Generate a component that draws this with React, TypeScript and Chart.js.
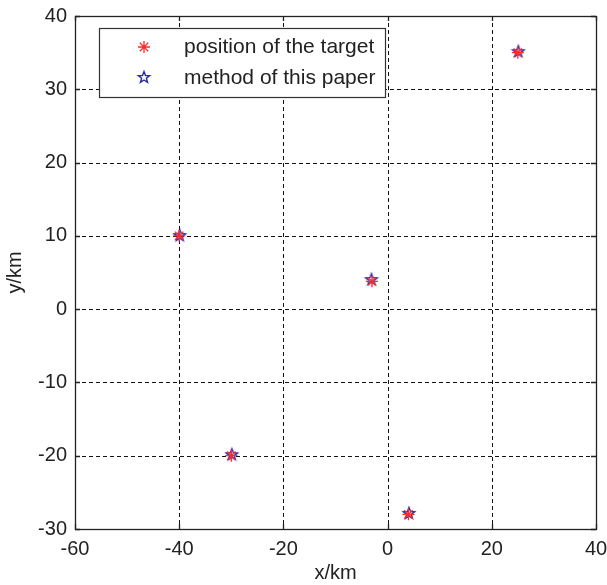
import React, { useEffect, useRef } from "react";
import { Chart, registerables } from "chart.js";
Chart.register(...registerables);

const xTicks = [-60, -40, -20, 0, 20, 40];
const yTicks = [-30, -20, -10, 0, 10, 20, 30, 40];
const targetX = [25, -40, -3, -30, 4];
const targetY = [35, 10, 3.8, -20, -28];
const methodX = [25.1, -39.9, -3.1, -29.9, 4.1];
const methodY = [35.2, 10.1, 4.1, -19.8, -27.8];
const legendLabels = ["position of the target", "method of this paper"];

const RED = "#ff2a2a";
const BLUE = "#2a2aa8";
const TEXT = "#222";
const FONT = "Liberation Sans, Arial, sans-serif";
const FS = 20;

function starPath(ctx: CanvasRenderingContext2D, cx: number, cy: number, R: number) {
  const r = R * 0.42;
  ctx.beginPath();
  for (let i = 0; i < 10; i++) {
    const a = -Math.PI / 2 + (i * Math.PI) / 5;
    const rad = i % 2 === 0 ? R : r;
    const x = cx + rad * Math.cos(a);
    const y = cy + rad * Math.sin(a);
    if (i === 0) ctx.moveTo(x, y);
    else ctx.lineTo(x, y);
  }
  ctx.closePath();
}

function makeStar(): HTMLCanvasElement {
  const c = document.createElement("canvas");
  c.width = 16;
  c.height = 16;
  const ctx = c.getContext("2d")!;
  ctx.strokeStyle = BLUE;
  ctx.lineWidth = 1.4;
  starPath(ctx, 8, 8.6, 6);
  ctx.stroke();
  return c;
}

function drawAsterisk(ctx: CanvasRenderingContext2D, x: number, y: number, r: number) {
  ctx.save();
  ctx.strokeStyle = RED;
  ctx.lineWidth = 1.3;
  ctx.setLineDash([]);
  ctx.beginPath();
  ctx.moveTo(x - r, y);
  ctx.lineTo(x + r, y);
  ctx.moveTo(x, y - r);
  ctx.lineTo(x, y + r);
  const d = r * 0.7;
  ctx.moveTo(x - d, y - d);
  ctx.lineTo(x + d, y + d);
  ctx.moveTo(x - d, y + d);
  ctx.lineTo(x + d, y - d);
  ctx.stroke();
  ctx.restore();
}

function bounds(chart: any) {
  const { x, y } = chart.scales;
  return {
    L: Math.round(x.getPixelForValue(xTicks[0])),
    R: Math.round(x.getPixelForValue(xTicks[xTicks.length - 1])),
    T: Math.round(y.getPixelForValue(yTicks[yTicks.length - 1])),
    B: Math.round(y.getPixelForValue(yTicks[0])),
  };
}

const gridPlugin = {
  id: "dashGrid",
  beforeDatasetsDraw(chart: any) {
    const { ctx, scales } = chart;
    const { L, R, T, B } = bounds(chart);
    ctx.save();
    ctx.strokeStyle = "#111";
    ctx.lineWidth = 1;
    ctx.setLineDash([4, 3]);
    ctx.beginPath();
    for (const v of xTicks.slice(1, -1)) {
      const px = Math.round(scales.x.getPixelForValue(v)) + 0.5;
      ctx.moveTo(px, T);
      ctx.lineTo(px, B);
    }
    for (const v of yTicks.slice(1, -1)) {
      const py = Math.round(scales.y.getPixelForValue(v)) + 0.5;
      ctx.moveTo(L, py);
      ctx.lineTo(R, py);
    }
    ctx.stroke();
    ctx.restore();
  },
};

const framePlugin = {
  id: "frameLegend",
  afterDraw(chart: any) {
    const { ctx, scales } = chart;
    const { L, R, T, B } = bounds(chart);
    ctx.save();
    ctx.strokeStyle = "#222";
    ctx.lineWidth = 1.3;
    ctx.setLineDash([]);
    ctx.strokeRect(L + 0.5, T + 0.5, R - L, B - T);
    const tl = 5;
    ctx.beginPath();
    for (const v of xTicks) {
      const px = Math.round(scales.x.getPixelForValue(v)) + 0.5;
      ctx.moveTo(px, B);
      ctx.lineTo(px, B - tl);
      ctx.moveTo(px, T);
      ctx.lineTo(px, T + tl);
    }
    for (const v of yTicks) {
      const py = Math.round(scales.y.getPixelForValue(v)) + 0.5;
      ctx.moveTo(L, py);
      ctx.lineTo(L + tl, py);
      ctx.moveTo(R, py);
      ctx.lineTo(R - tl, py);
    }
    ctx.stroke();

    // legend
    const lx = 99, ly = 28, lw = 286, lh = 69;
    ctx.fillStyle = "#fff";
    ctx.fillRect(lx, ly, lw, lh);
    ctx.strokeStyle = "#333";
    ctx.lineWidth = 1.2;
    ctx.strokeRect(lx + 0.5, ly + 0.5, lw, lh);
    drawAsterisk(ctx, 144, 47, 6);
    ctx.strokeStyle = BLUE;
    ctx.lineWidth = 1.4;
    starPath(ctx, 144, 77.5, 6);
    ctx.stroke();
    ctx.fillStyle = TEXT;
    ctx.font = `21px ${FONT}`;
    ctx.textBaseline = "middle";
    ctx.textAlign = "left";
    ctx.fillText(legendLabels[0], 184, 47);
    ctx.fillText(legendLabels[1], 184, 78);
    ctx.restore();
  },
};

const asteriskPlugin = {
  id: "asterisks",
  afterDatasetsDraw(chart: any) {
    const meta = chart.getDatasetMeta(0);
    const ctx = chart.ctx;
    meta.data.forEach((pt: any) => drawAsterisk(ctx, pt.x, pt.y, 6));
  },
};

export default function App() {
  const ref = useRef<HTMLCanvasElement>(null);
  useEffect(() => {
    document.body.style.margin = "0";
    const star = makeStar();
    const chart = new Chart(ref.current!, {
      type: "scatter",
      data: {
        datasets: [
          {
            label: legendLabels[0],
            data: targetX.map((x, i) => ({ x, y: targetY[i] })),
            pointRadius: 0,
            pointHoverRadius: 0,
            borderColor: RED,
            backgroundColor: RED,
          },
          {
            label: legendLabels[1],
            data: methodX.map((x, i) => ({ x, y: methodY[i] })),
            pointStyle: star as any,
            pointRadius: 7,
            borderColor: BLUE,
            backgroundColor: BLUE,
          },
        ],
      },
      options: {
        animation: false,
        responsive: false,
        events: [],
        layout: { padding: { top: 16, right: 11, left: 0, bottom: 0 } },
        plugins: { legend: { display: false }, tooltip: { enabled: false } },
        scales: {
          x: {
            type: "linear",
            min: -60,
            max: 40,
            afterBuildTicks: (s: any) => {
              s.ticks = xTicks.map((v) => ({ value: v }));
            },
            afterFit: (s: any) => {
              s.height = 56;
              s.paddingLeft = 0;
              s.paddingRight = 0;
            },
            grid: { display: false, drawTicks: false },
            border: { display: false },
            ticks: {
              color: TEXT,
              font: { family: FONT, size: FS },
              padding: 8,
              maxRotation: 0,
            },
            title: {
              display: true,
              text: "x/km",
              color: TEXT,
              font: { family: FONT, size: FS },
              padding: { top: 0, bottom: 0 },
            },
          },
          y: {
            type: "linear",
            min: -30,
            max: 40,
            afterBuildTicks: (s: any) => {
              s.ticks = yTicks.map((v) => ({ value: v }));
            },
            afterFit: (s: any) => {
              s.width = 75;
              s.paddingTop = 0;
              s.paddingBottom = 0;
            },
            grid: { display: false, drawTicks: false },
            border: { display: false },
            ticks: {
              color: TEXT,
              font: { family: FONT, size: FS },
              padding: 8,
            },
            title: {
              display: true,
              text: "y/km",
              color: TEXT,
              font: { family: FONT, size: FS },
              padding: { top: 3, bottom: 4 },
            },
          },
        },
      },
      plugins: [gridPlugin, asteriskPlugin, framePlugin],
    });
    return () => chart.destroy();
  }, []);
  return (
    <div style={{ position: "absolute", left: 0, top: 0 }}>
      <canvas ref={ref} width={607} height={585} style={{ display: "block", width: 607, height: 585 }} />
    </div>
  );
}
